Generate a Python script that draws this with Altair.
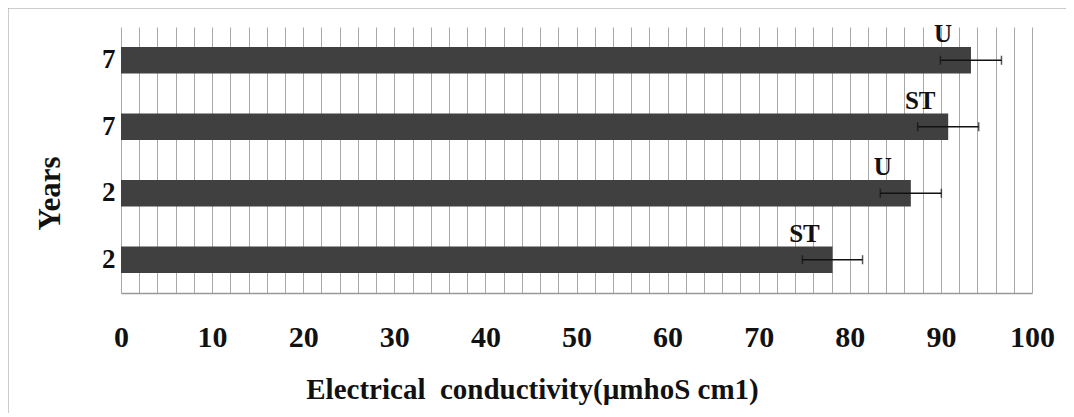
import altair as alt
import pandas as pd

keys = ["7 U", "7 ST", "2 U", "2 ST"]
years = ["7", "7", "2", "2"]
groups = ["U", "ST", "U", "ST"]
values = [93.3, 90.8, 86.7, 78.1]
errors = [3.35, 3.35, 3.35, 3.3]
x_ticks = list(range(0, 101, 2))

df = pd.DataFrame({"key": keys, "year": years, "group": groups, "value": values, "err": errors})
df["lo"] = df["value"] - df["err"]
df["hi"] = df["value"] + df["err"]

FONT = "Liberation Serif"
W, H = 911, 266

yscale = alt.Scale(domain=keys, paddingInner=0.6, paddingOuter=0.3)
xscale = alt.Scale(domain=[0, 100], nice=False, zero=True)

xaxis = alt.Axis(values=x_ticks, grid=True, gridColor="#a8a8a8", gridWidth=1,
                 ticks=False, domain=True, domainColor="#999999", domainWidth=1.5,
                 labelExpr="datum.value % 10 == 0 ? datum.label : ''",
                 labelFont=FONT, labelFontSize=30, labelFontWeight="bold",
                 labelColor="#111111", labelPadding=29, labelFlush=False,
                 labelOverlap=False,
                 title="Electrical\u00a0 conductivity(µmhoS cm1)",
                 titleFont=FONT, titleFontSize=29, titleFontWeight="bold",
                 titleColor="#111111", titleX=411, titleY=96,
                 titleAlign="center", titleBaseline="middle")
yaxis = alt.Axis(labelExpr="split(datum.value, ' ')[0]", ticks=False, domain=False,
                 labelFont=FONT, labelFontSize=27, labelFontWeight="bold",
                 labelColor="#111111", labelPadding=6,
                 title="Years", titleFont=FONT, titleFontSize=31, titleFontWeight="bold",
                 titleColor="#111111", titleAngle=-90, titleX=-71, titleY=166,
                 titleAlign="center", titleBaseline="middle")

Y = alt.Y("key:N", scale=yscale, sort=keys, axis=yaxis)

base = alt.Chart(df)

bars = base.mark_bar(color="#404040").encode(
    x=alt.X("value:Q", scale=xscale, axis=xaxis), y=Y,
)
err_line = base.mark_rule(color="#111111", strokeWidth=1.5).encode(
    x=alt.X("lo:Q", scale=xscale, axis=xaxis), x2="hi:Q", y=Y,
)
err_lo = base.mark_tick(color="#111111", thickness=1.5, size=9).encode(
    x=alt.X("lo:Q", scale=xscale, axis=xaxis), y=Y,
)
err_hi = base.mark_tick(color="#111111", thickness=1.5, size=9).encode(
    x=alt.X("hi:Q", scale=xscale, axis=xaxis), y=Y,
)
labels = base.mark_text(font=FONT, fontSize=25, fontWeight="bold", color="#111111",
                        align="center", baseline="alphabetic", dx=-28, dy=-18).encode(
    x=alt.X("value:Q", scale=xscale, axis=xaxis), y=Y, text="group:N",
)

frame_top = alt.Chart(pd.DataFrame({"k": [0]})).mark_rule(color="#9a9a9a", strokeWidth=1).encode(
    x=alt.value(-113), x2=alt.value(W + 40), y=alt.value(-19)
)
frame_left = alt.Chart(pd.DataFrame({"k": [0]})).mark_rule(color="#9a9a9a", strokeWidth=1).encode(
    x=alt.value(-113), y=alt.value(-19), y2=alt.value(H + 140)
)

chart = alt.layer(bars, err_line, err_lo, err_hi, labels, frame_top, frame_left).properties(
    width=W, height=H,
    autosize=alt.AutoSizeParams(type="none"),
    padding={"left": 113, "top": 19, "right": 34, "bottom": 120},
    background="white",
).configure_view(stroke=None).configure_axis(
    titleFont=FONT, labelFont=FONT, titleFontWeight="bold", labelFontWeight="bold"
).configure_text(font=FONT)

chart.save("out.html", embed_options={"renderer": "svg", "actions": False})
